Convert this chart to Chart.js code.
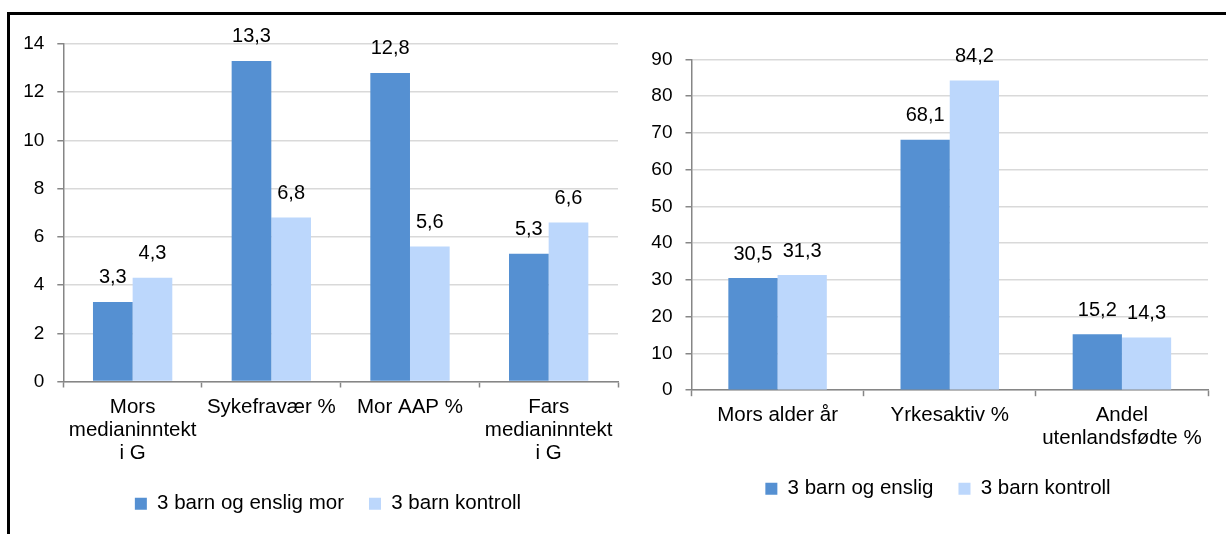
<!DOCTYPE html>
<html>
<head>
<meta charset="utf-8">
<script src="https://cdn.jsdelivr.net/npm/chart.js@4.4.1/dist/chart.umd.min.js"></script>
<style>
  html, body { margin: 0; padding: 0; background: #fff; width: 1226px; height: 534px; overflow: hidden; }
  #frame { position: absolute; left: 7px; top: 12px; width: 1240px; height: 540px; border-top: 3px solid #000; border-left: 3px solid #000; }
  #c1 { position: absolute; left: 10px; top: 15px; }
  #c2 { position: absolute; left: 622px; top: 15px; }
</style>
</head>
<body>
<div id="frame"></div>
<canvas id="c1" width="612" height="519"></canvas>
<canvas id="c2" width="604" height="519"></canvas>
<script>
// ---- Data ----
const leftCategories = [["Mors", "medianinntekt", "i G"], "Sykefravær %", "Mor AAP %", ["Fars", "medianinntekt", "i G"]];
const leftSingleMother = [3.3, 13.3, 12.8, 5.3];
const leftControl = [4.3, 6.8, 5.6, 6.6];
const leftSeriesNames = ["3 barn og enslig mor", "3 barn kontroll"];
const leftTicks = { min: 0, max: 14, step: 2 };

const rightCategories = ["Mors alder år", "Yrkesaktiv %", ["Andel", "utenlandsfødte %"]];
const rightSingle = [30.5, 68.1, 15.2];
const rightControl = [31.3, 84.2, 14.3];
const rightSeriesNames = ["3 barn og enslig", "3 barn kontroll"];
const rightTicks = { min: 0, max: 90, step: 10 };

// ---- Styles ----
const DARK = "#5590D2";
const LIGHT = "#BCD7FC";
const FONT = "'Liberation Sans', Arial, sans-serif";
Chart.defaults.font.family = FONT;
Chart.defaults.color = "#000";
Chart.defaults.animation = false;

const valueLabels = {
  id: "valueLabels",
  afterDatasetsDraw(chart) {
    const ctx = chart.ctx;
    ctx.save();
    ctx.font = "20px " + FONT;
    ctx.fillStyle = "#000";
    ctx.textAlign = "center";
    ctx.textBaseline = "middle";
    chart.data.datasets.forEach((ds, i) => {
      const meta = chart.getDatasetMeta(i);
      meta.data.forEach((bar, j) => {
        const v = ds.data[j];
        ctx.fillText(v.toFixed(1).replace(".", ","), bar.x, bar.y - 24);
      });
    });
    ctx.restore();
  }
};

const legendShift = {
  id: "legendShift",
  afterLayout(chart, args, opts) {
    const lg = chart.legend;
    if (lg) { lg.left += opts.dx; lg.right += opts.dx; }
  }
};

function makeChart(id, cats, a, b, names, ticks, geo) {
  return new Chart(document.getElementById(id), {
    type: "bar",
    data: {
      labels: cats,
      datasets: [
        { label: names[0], data: a, backgroundColor: DARK, borderWidth: 0 },
        { label: names[1], data: b, backgroundColor: LIGHT, borderWidth: 0 }
      ]
    },
    options: {
      responsive: false,
      animation: false,
      categoryPercentage: 0.572,
      barPercentage: 1.0,
      layout: { padding: geo.padding },
      plugins: {
        legend: {
          position: "bottom",
          labels: { boxWidth: 12, boxHeight: 12, padding: 25, font: { size: 20.5 }, color: "#000" }
        },
        legendShift: { dx: geo.legendDx },
        tooltip: { enabled: false }
      },
      scales: {
        x: {
          grid: { drawOnChartArea: false, drawTicks: true, tickLength: 6, tickColor: "#868686", tickWidth: 1.5 },
          border: { color: "#868686", width: 1.5 },
          ticks: { autoSkip: false, maxRotation: 0, minRotation: 0, padding: 8, font: { size: 20.5, lineHeight: 1.12 }, color: "#000" },
          afterFit(scale) { scale.height = geo.xHeight; }
        },
        y: {
          min: ticks.min, max: ticks.max,
          grid: { color: "#D9D9D9", lineWidth: 1.5, drawTicks: true, tickLength: 6, tickColor: "#868686", tickWidth: 1.5 },
          border: { color: "#868686", width: 1.5 },
          ticks: { stepSize: ticks.step, padding: 13, font: { size: 19 }, color: "#000" },
          afterFit(scale) { scale.width = geo.yWidth; }
        }
      }
    },
    plugins: [valueLabels, legendShift]
  });
}

makeChart("c1", leftCategories, leftSingleMother, leftControl, leftSeriesNames, leftTicks,
  { padding: { top: 29, left: 0, right: 4, bottom: 10 }, xHeight: 87, yWidth: 53.3, legendDx: 14 });
makeChart("c2", rightCategories, rightSingle, rightControl, rightSeriesNames, rightTicks,
  { padding: { top: 44.3, left: 0, right: 18, bottom: 25 }, xHeight: 63.3, yWidth: 69.5, legendDx: 23 });
</script>
</body>
</html>
